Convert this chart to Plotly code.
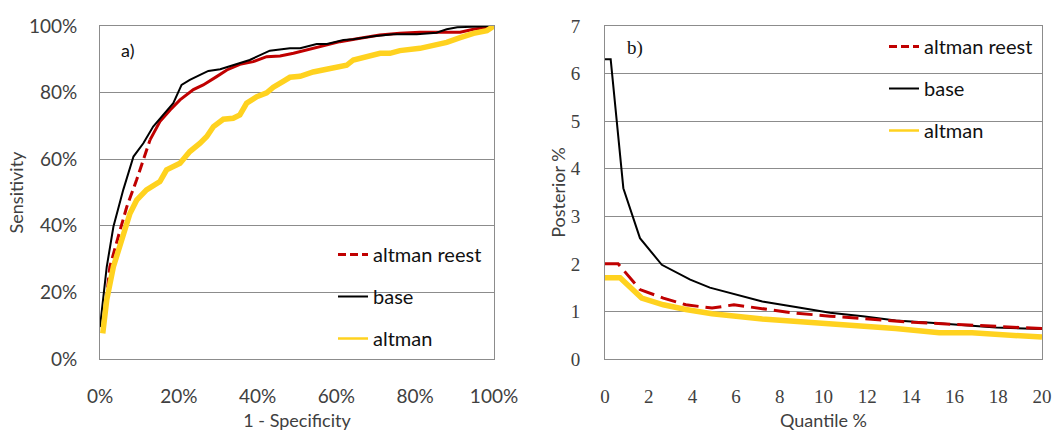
import plotly.graph_objects as go

# ---------- Panel a) ROC curves (values in %) ----------
base_a_x = [0, 1.7, 3.4, 5.9, 8.5, 11, 13.5, 16, 18.6, 20.7, 22.8, 25.4, 27.5, 30.5, 33.8, 38, 39.8, 43.1, 48.2, 50.8, 55, 57.6, 61.8, 64.3, 69.4, 74.4, 80.4, 85.4, 88, 90.7, 100]
base_a_y = [9.6, 27.6, 39.7, 50.8, 60.8, 64.8, 69.8, 73.3, 76.8, 82.3, 83.8, 85.3, 86.5, 87, 88.3, 89.8, 90.8, 92.6, 93.3, 93.3, 94.6, 94.6, 95.8, 96, 96.9, 97.5, 97.5, 98, 99, 99.6, 100]

reest_a_x = [0.7, 2.5, 5.1, 6.8, 9.3, 11, 12.7, 15.2, 17.8, 20.3, 23.7, 26.2, 29.6, 32.2, 35.5, 38.9, 42.3, 45.7, 49.1, 52.5, 55.8, 60.9, 66, 71, 76.1, 81.2, 91.4, 94.8, 100]
reest_a_y = [8.0, 27.7, 38.7, 45.7, 53.8, 59.8, 65.8, 71.3, 74.8, 77.8, 80.9, 82.3, 84.8, 86.8, 88.5, 89.3, 90.8, 91, 91.8, 92.8, 94, 95.3, 96.3, 97.3, 97.8, 98.1, 98.1, 99, 100]

alt_a_x = [0.7, 1.7, 3.4, 5.9, 7.6, 9.3, 11.8, 15.2, 16.9, 20.3, 22.8, 25.4, 27.1, 28.8, 31.3, 33.8, 35.5, 37.2, 39.8, 42.3, 44, 46.5, 48.2, 50.8, 54.1, 57.5, 60.9, 62.6, 64.3, 67.7, 71.1, 73.6, 76.1, 81.2, 84.6, 88, 91.4, 94.8, 98.2, 100]
alt_a_y = [7.7, 17.7, 27.7, 37.7, 43.7, 47.7, 50.8, 53.3, 56.8, 58.8, 62.3, 64.8, 66.8, 69.8, 72, 72.3, 73.3, 76.8, 78.8, 79.9, 81.6, 83.4, 84.6, 84.9, 86.2, 87, 88, 88.2, 89.8, 90.8, 91.8, 91.8, 92.6, 93.3, 94, 95.1, 96.5, 97.8, 98.6, 100]

# ---------- Panel b) Posterior % vs quantile % ----------
base_b_x = [0, 0.26, 0.84, 1.6, 2.6, 3.9, 4.8, 6.0, 7.2, 8.8, 10.3, 11.8, 13.3, 14.9, 16.4, 17.9, 20]
base_b_y = [6.3, 6.3, 3.59, 2.54, 1.98, 1.67, 1.5, 1.35, 1.21, 1.09, 0.97, 0.9, 0.81, 0.76, 0.71, 0.66, 0.63]

reest_b_x = [0, 0.6, 1.6, 2.67, 3.7, 4.9, 5.9, 7.1, 8.6, 10.3, 12.1, 14.1, 16.4, 17.9, 20]
reest_b_y = [2.0, 2.0, 1.46, 1.28, 1.14, 1.07, 1.14, 1.07, 0.97, 0.9, 0.84, 0.77, 0.72, 0.69, 0.64]

alt_b_x = [0, 0.69, 1.68, 2.67, 3.7, 4.9, 6.0, 7.2, 8.8, 10.3, 11.8, 13.3, 15.3, 16.8, 20]
alt_b_y = [1.71, 1.71, 1.28, 1.14, 1.04, 0.95, 0.9, 0.84, 0.79, 0.74, 0.7, 0.64, 0.55, 0.55, 0.46]

names = ["altman reest", "base", "altman"]
RED, BLACK, YELLOW = "#C00000", "#000000", "#FFD21F"
GRID = "#8C8C8C"
SANS = "Lato, Carlito, 'Open Sans', sans-serif"
SERIF = "'Liberation Serif', serif"

def pct(v):
    return [a / 100 for a in v]

split = 7  # steep part of the red ROC curve shown dashed, rest looks solid

fig = go.Figure()

# panel a data
fig.add_trace(go.Scatter(x=pct(reest_a_x[:split]), y=pct(reest_a_y[:split]), mode="lines", showlegend=False,
                         line=dict(color=RED, width=3, dash="10px,5px"), xaxis="x", yaxis="y"))
fig.add_trace(go.Scatter(x=pct(reest_a_x[split - 1:]), y=pct(reest_a_y[split - 1:]), mode="lines", showlegend=False,
                         line=dict(color=RED, width=3), xaxis="x", yaxis="y"))
fig.add_trace(go.Scatter(x=pct(base_a_x), y=pct(base_a_y), mode="lines", showlegend=False,
                         line=dict(color=BLACK, width=2), xaxis="x", yaxis="y"))
fig.add_trace(go.Scatter(x=pct(alt_a_x), y=pct(alt_a_y), mode="lines", showlegend=False,
                         line=dict(color=YELLOW, width=5.5), xaxis="x", yaxis="y"))

# panel b data
fig.add_trace(go.Scatter(x=base_b_x, y=base_b_y, mode="lines", showlegend=False,
                         line=dict(color=BLACK, width=2), xaxis="x2", yaxis="y2"))
fig.add_trace(go.Scatter(x=reest_b_x, y=reest_b_y, mode="lines", showlegend=False,
                         line=dict(color=RED, width=3, dash="16px,7px"), xaxis="x2", yaxis="y2"))
fig.add_trace(go.Scatter(x=alt_b_x, y=alt_b_y, mode="lines", showlegend=False,
                         line=dict(color=YELLOW, width=5.5), xaxis="x2", yaxis="y2"))

# legend entries (thin sample lines as in the original)
leg_styles = [dict(color=RED, width=3, dash="8px,4px"), dict(color=BLACK, width=2), dict(color=YELLOW, width=2.5)]
for lg, ax, ay in (("legend", "x", "y"), ("legend2", "x2", "y2")):
    for i, (nm, st) in enumerate(zip(names, leg_styles)):
        fig.add_trace(go.Scatter(x=[None], y=[None], mode="lines", name=nm, line=st, legend=lg,
                                 legendgroup=f"{lg}{i}", xaxis=ax, yaxis=ay))

ydom = [1 - 359 / 431, 1 - 26 / 431]
axis_common = dict(showline=True, mirror=True, linecolor=GRID, linewidth=1, ticks="",
                   zeroline=False, fixedrange=True, automargin=False)

legend_common = dict(font=dict(family=SANS, size=20, color="#111111"), bgcolor="rgba(0,0,0,0)",
                     tracegroupgap=13, traceorder="grouped", xanchor="left", yanchor="top", itemwidth=30)

tfont = dict(family=SANS, size=18, color="#404040")
fig.update_layout(
    width=1056, height=431,
    margin=dict(l=0, r=0, t=0, b=0),
    paper_bgcolor="white", plot_bgcolor="white",
    xaxis=dict(domain=[100 / 1056, 494 / 1056], range=[0, 1], dtick=0.2, tickformat=".0%", showgrid=False,
               tickfont=dict(family=SANS, size=19, color="#404040"), ticklabelstandoff=20,
               title=dict(text="1 - Specificity", font=tfont, standoff=8),
               anchor="y", **axis_common),
    yaxis=dict(domain=ydom, range=[0, 1], dtick=0.2, tickformat=".0%", showgrid=True, gridcolor=GRID, gridwidth=1,
               tickfont=dict(family=SANS, size=19, color="#404040"), ticklabelstandoff=18,
               title=dict(text="Sensitivity", font=tfont, standoff=0),
               anchor="x", **axis_common),
    xaxis2=dict(domain=[605 / 1056, 1042 / 1056], range=[0, 20], dtick=2, showgrid=False,
                tickfont=dict(family=SERIF, size=19, color="#404040"), ticklabelstandoff=20,
                title=dict(text="Quantile %", font=tfont, standoff=8),
                anchor="y2", **axis_common),
    yaxis2=dict(domain=ydom, range=[0, 7], dtick=1, showgrid=True, gridcolor=GRID, gridwidth=1,
                tickfont=dict(family=SERIF, size=19, color="#404040"), ticklabelstandoff=20,
                title=dict(text="Posterior %", font=tfont, standoff=0),
                anchor="x2", **axis_common),
    legend=dict(x=333 / 1056, y=1 - 235 / 431, **legend_common),
    legend2=dict(x=884 / 1056, y=1 - 27 / 431, **legend_common),
    annotations=[
        dict(text="a)", x=119 / 1056, y=1 - 50 / 431, xref="paper", yref="paper", xanchor="left", yanchor="middle",
             showarrow=False, font=dict(family=SANS, size=18, color="#111111")),
        dict(text="b)", x=625 / 1056, y=1 - 48 / 431, xref="paper", yref="paper", xanchor="left", yanchor="middle",
             showarrow=False, font=dict(family=SERIF, size=19, color="#111111")),
    ],
)

fig.write_html("out.html")
